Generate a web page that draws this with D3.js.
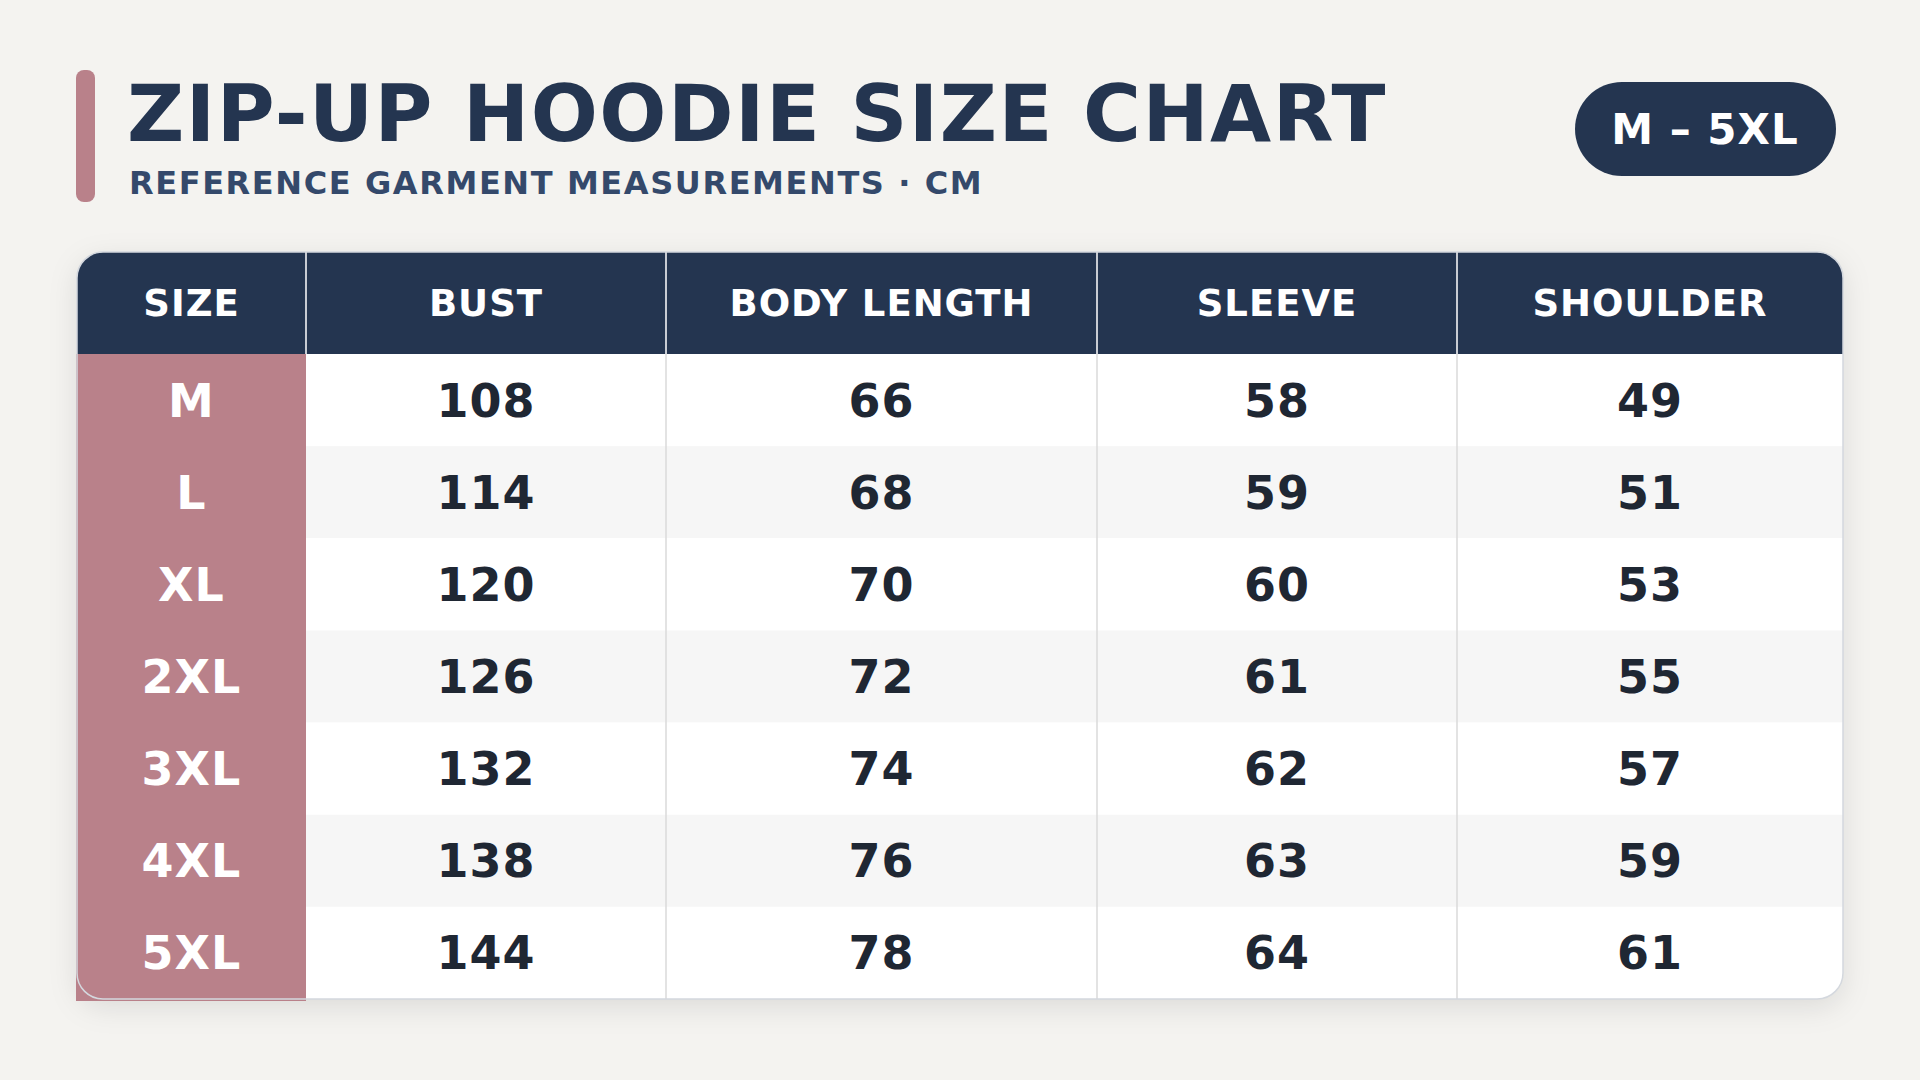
<!DOCTYPE html>
<html><head><meta charset="utf-8">
<script src="https://cdn.jsdelivr.net/npm/d3@7"></script>
<style>html,body{margin:0;padding:0;background:#f4f3f0;}svg{display:block;font-family:"DejaVu Sans",sans-serif;}</style>
</head><body>
<script>
const columns = ["SIZE","BUST","BODY LENGTH","SLEEVE","SHOULDER"];
const sizes = ["M","L","XL","2XL","3XL","4XL","5XL"];
const bust = [108,114,120,126,132,138,144];
const bodyLength = [66,68,70,72,74,76,78];
const sleeve = [58,59,60,61,62,63,64];
const shoulder = [49,51,53,55,57,59,61];
const title = "ZIP-UP HOODIE SIZE CHART";
const subtitle = "REFERENCE GARMENT MEASUREMENTS · CM";
const badge = "M – 5XL";

const W=1920,H=1080;
const svg=d3.select("body").append("svg").attr("width",W).attr("height",H);
svg.append("rect").attr("width",W).attr("height",H).attr("fill","#f4f3f0");
const defs=svg.append("defs");
const f=defs.append("filter").attr("id","sh").attr("x","-10%").attr("y","-10%").attr("width","120%").attr("height","130%");
f.append("feDropShadow").attr("dx",0).attr("dy",8).attr("stdDeviation",14).attr("flood-color","#000").attr("flood-opacity",0.10);

// header
svg.append("rect").attr("x",76).attr("y",70).attr("width",19).attr("height",132).attr("rx",8).attr("fill","#b9818a");
svg.append("text").attr("x",127).attr("y",141).attr("font-size",79).attr("font-weight","bold").attr("fill","#243550").attr("letter-spacing",1.5).text(title);
svg.append("text").attr("x",129).attr("y",194).attr("font-size",32).attr("font-weight","bold").attr("fill","#34496b").attr("letter-spacing",1.6).text(subtitle);
svg.append("rect").attr("x",1575).attr("y",82).attr("width",261).attr("height",94).attr("rx",47).attr("fill","#243550");
svg.append("text").attr("x",1705).attr("y",129).attr("dy","0.36em").attr("text-anchor","middle").attr("font-size",42).attr("font-weight","bold").attr("fill","#fff").attr("letter-spacing",1).text(badge);

// table
const tx=77,tr=1843,ty=252,hh=102,tb=999;
const edges=[tx,306,666,1097,1457,tr];
const y=d3.scaleBand().domain(sizes).range([ty+hh,tb]);
const clipId="tc";
defs.append("clipPath").attr("id",clipId).append("rect").attr("x",tx).attr("y",ty).attr("width",tr-tx).attr("height",tb-ty).attr("rx",26);
svg.append("rect").attr("x",tx).attr("y",ty).attr("width",tr-tx).attr("height",tb-ty).attr("rx",26).attr("fill","#fff").attr("filter","url(#sh)");
const g=svg.append("g").attr("clip-path",`url(#${clipId})`);
g.selectAll(".row").data(sizes).join("rect").attr("x",tx).attr("y",d=>y(d)).attr("width",tr-tx).attr("height",y.bandwidth())
 .attr("fill",(d,i)=>i%2?"#f6f6f6":"#ffffff");
g.append("rect").attr("x",tx).attr("y",ty).attr("width",tr-tx).attr("height",hh).attr("fill","#243550");
svg.append("rect").attr("x",tx-1).attr("y",ty+hh).attr("width",edges[1]-tx+1).attr("height",tb-ty-hh+2).attr("fill","#b9818a");
// separators
edges.slice(1,-1).forEach((x,i)=>{
  svg.append("line").attr("x1",x).attr("x2",x).attr("y1",ty).attr("y2",ty+hh).attr("stroke","#fff").attr("stroke-width",1.5);
  if(i>0) svg.append("line").attr("x1",x).attr("x2",x).attr("y1",ty+hh).attr("y2",tb).attr("stroke","#dadada").attr("stroke-width",1.5);
});
svg.append("rect").attr("x",tx).attr("y",ty).attr("width",tr-tx).attr("height",tb-ty).attr("rx",26).attr("fill","none").attr("stroke","#d4d8de").attr("stroke-width",1.5);

const cx=i=>(edges[i]+edges[i+1])/2;
columns.forEach((c,i)=>svg.append("text").attr("x",cx(i)).attr("y",ty+hh/2).attr("dy","0.36em").attr("text-anchor","middle")
  .attr("font-size",37).attr("font-weight","bold").attr("fill","#fff").attr("letter-spacing",1).text(c));
const series=[sizes,bust,bodyLength,sleeve,shoulder];
series.forEach((arr,i)=>{
  svg.selectAll(null).data(arr).join("text").attr("x",cx(i)).attr("y",(d,j)=>y(sizes[j])+y.bandwidth()/2).attr("dy","0.36em")
   .attr("text-anchor","middle").attr("font-size",46).attr("font-weight","bold").attr("letter-spacing",1)
   .attr("fill",i===0?"#ffffff":"#1f2733").text(d=>d);
});
</script>
</body></html>
